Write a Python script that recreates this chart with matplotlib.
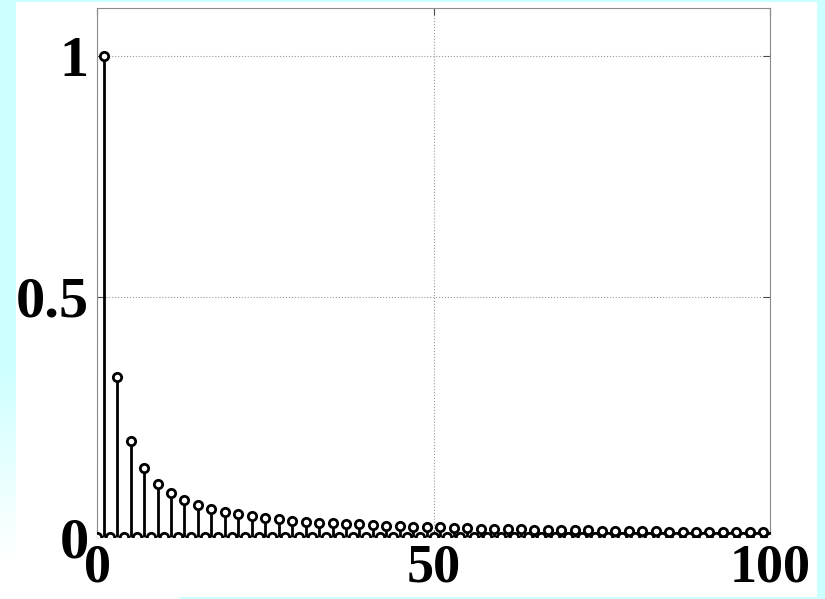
import numpy as np
import matplotlib.pyplot as plt

# stem values: odd n carry ~1/n, even n sit at zero
odd_n = list(range(1, 100, 2))
odd_vals = [1.0, 0.333, 0.2, 0.143, 0.111, 0.091, 0.077, 0.067, 0.059, 0.053,
            0.048, 0.043, 0.040, 0.037, 0.034, 0.032, 0.030, 0.029, 0.027, 0.026,
            0.024, 0.023, 0.022, 0.021, 0.020, 0.020, 0.019, 0.018, 0.017, 0.017,
            0.016, 0.016, 0.015, 0.015, 0.014, 0.014, 0.014, 0.013, 0.013, 0.013,
            0.012, 0.012, 0.011, 0.011, 0.011, 0.011, 0.010, 0.010, 0.010, 0.010]
even_n = list(range(0, 101, 2))
even_vals = [0.0] * len(even_n)

xticks = [0, 50, 100]
yticks = [0, 0.5, 1]
yticklabels = ['0', '0.5', '1']

W, H = 825, 599
fig = plt.figure(figsize=(W / 100, H / 100), dpi=100)

# slide background: cyan border, left strip fading out toward the bottom
cyan = np.array([0.8, 1.0, 1.0])
bg = np.ones((H, W, 3))
bg[:2, :, :] = cyan
bg[:, 817:, :] = cyan
bg[597:, 180:, :] = cyan
fade = np.clip((560 - np.arange(H)) / 200.0, 0, 1)[:, None]
bg[:, :16, :] = 1 - fade[:, :, None] * (1 - cyan)
bax = fig.add_axes([0, 0, 1, 1], zorder=-10)
bax.imshow(bg, aspect='auto', interpolation='nearest')
bax.axis('off')

ax = fig.add_axes([97 / W, 1 - 537 / H, (770 - 97) / W, (537 - 8) / H])
for n, v in ((odd_n, odd_vals), (even_n, even_vals)):
    ml, sl, bl = ax.stem(n, v, linefmt='k-', markerfmt='ko', basefmt='k-')
    plt.setp(sl, linewidth=2.0)
    plt.setp(bl, linewidth=1.5)
    plt.setp(ml, markersize=6, markerfacecolor='white', markeredgewidth=2.0,
             zorder=3)

ax.set_xlim(0, 100)
ax.set_ylim(0, 1.1)
ax.set_xticks(xticks)
ax.set_yticks(yticks)
ax.set_yticklabels(yticklabels)
ax.grid(True, linestyle=':', color='0.6', linewidth=0.8)
for s in ax.spines.values():
    s.set_color('0.55')
ax.tick_params(direction='in', length=5, color='0.3', top=True, right=True)
ax.tick_params(axis='x', pad=5, labelsize=39)
ax.tick_params(axis='y', pad=6, labelsize=42)
for lab in ax.get_xticklabels() + ax.get_yticklabels():
    lab.set_fontfamily('Liberation Serif')
    lab.set_fontweight('bold')

fig.savefig('out.png', dpi=100)
